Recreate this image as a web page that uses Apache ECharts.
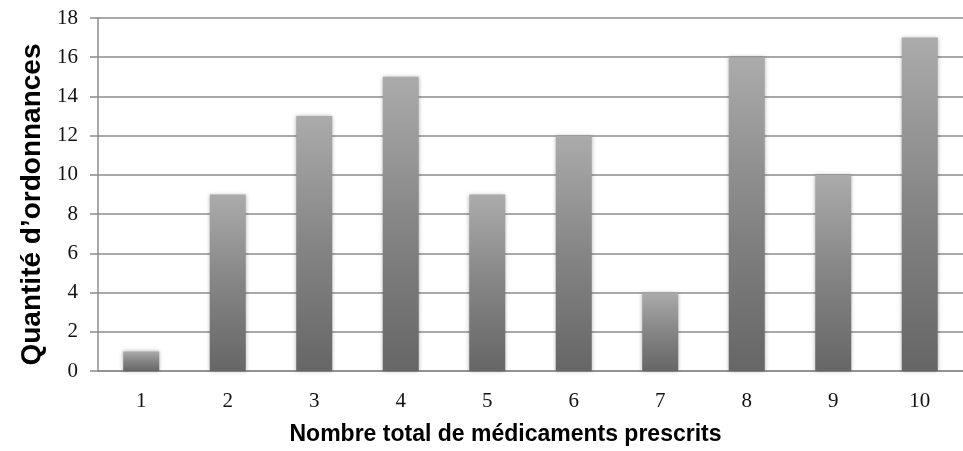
<!DOCTYPE html>
<html>
<head>
<meta charset="utf-8">
<script src="https://cdn.jsdelivr.net/npm/echarts@6/dist/echarts.min.js"></script>
<style>html,body{margin:0;padding:0;background:#fff;}#c{width:963px;height:451px;}</style>
</head>
<body>
<div id="c"></div>
<script>
const categories = ['1','2','3','4','5','6','7','8','9','10'];
const values = [1, 9, 13, 15, 9, 12, 4, 16, 10, 17];
const yTicks = {min: 0, max: 18, interval: 2};
const xTitle = 'Nombre total de médicaments prescrits';
const yTitle = 'Quantité d\u2019ordonnances';

const chart = echarts.init(document.getElementById('c'), null, {renderer: 'canvas'});
chart.setOption({
  animation: false,
  backgroundColor: '#fff',
  grid: {left: 98, right: -16, top: 18, bottom: 75, containLabel: false},
  xAxis: {
    type: 'category',
    data: categories,
    axisLine: {lineStyle: {color: '#8c8c8c', width: 1.5}},
    axisTick: {show: false},
    axisLabel: {fontFamily: 'Liberation Serif', fontSize: 21, color: '#111', margin: 20},
    name: xTitle,
    nameLocation: 'middle',
    nameGap: 52,
    nameTextStyle: {fontFamily: 'Liberation Sans', fontWeight: 'bold', fontSize: 23, color: '#000', padding: [0, 50, 0, 0]}
  },
  yAxis: {
    type: 'value',
    min: yTicks.min, max: yTicks.max, interval: yTicks.interval,
    axisLine: {show: true, lineStyle: {color: '#8c8c8c', width: 1.5}},
    axisTick: {show: true, length: 8, lineStyle: {color: '#8c8c8c', width: 1.5}},
    splitLine: {lineStyle: {color: '#8c8c8c', width: 1.5}},
    axisLabel: {fontFamily: 'Liberation Serif', fontSize: 21, color: '#111', margin: 20},
    name: yTitle,
    nameLocation: 'middle',
    nameGap: 50,
    nameTextStyle: {fontFamily: 'Liberation Sans', fontWeight: 'bold', fontSize: 28, color: '#000', padding: [0, 20, 0, 0]}
  },
  series: [{
    type: 'bar',
    data: values,
    barWidth: 36,
    itemStyle: {
      color: new echarts.graphic.LinearGradient(0, 0, 0, 1, [
        {offset: 0, color: '#ababab'},
        {offset: 0.5, color: '#858585'},
        {offset: 1, color: '#666666'}
      ]),
      shadowColor: 'rgba(0,0,0,0.3)',
      shadowBlur: 4
    }
  }]
});
</script>
</body>
</html>
